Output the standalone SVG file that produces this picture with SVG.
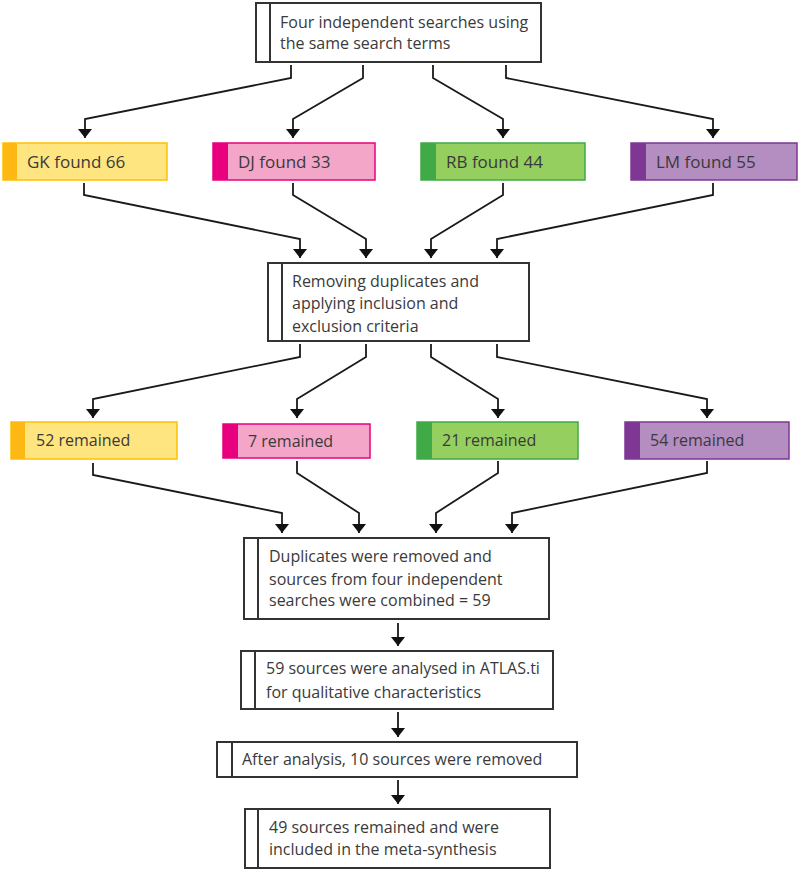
<svg xmlns="http://www.w3.org/2000/svg" width="800" height="871" viewBox="0 0 800 871">
<defs>
<marker id="ah" markerUnits="userSpaceOnUse" markerWidth="10" markerHeight="14" refX="9" refY="7" orient="auto" viewBox="0 0 10 14">
<path d="M0,0 L9,7 L0,14 z" fill="#111"/>
</marker>
<style>
.box{fill:#fff;stroke:#333;stroke-width:2}
.bar{fill:none;stroke:#333;stroke-width:2}
.t{font-family:"Open Sans","Noto Sans","DejaVu Sans",sans-serif;font-size:16px;font-weight:500;fill:#3a3a3a}
.l{font-size:17px}
.c{fill:none;stroke:#1a1a1a;stroke-width:1.8;marker-end:url(#ah)}
.y{fill:#FFE57F;stroke:#FFC000;stroke-width:1.5}
.yb{fill:#FDB813}
.p{fill:#F4A6C8;stroke:#E9007F;stroke-width:1.5}
.pb{fill:#E9007F}
.g{fill:#95CF5F;stroke:#3FAA46;stroke-width:1.5}
.gb{fill:#3FAA46}
.v{fill:#B48DC1;stroke:#7E3793;stroke-width:1.5}
.vb{fill:#7E3793}
</style>
</defs>
<rect width="800" height="871" fill="#fff"/>

<g id="connectors">
<path class="c" d="M291,65 V78 L85,119 V138"/>
<path class="c" d="M363,65 V78 L293,119 V138"/>
<path class="c" d="M433,65 V78 L503,119 V138"/>
<path class="c" d="M506,65 V78 L713,119 V138"/>
<path class="c" d="M84,183 V195 L300,239 V258"/>
<path class="c" d="M293,183 V195 L366,239 V258"/>
<path class="c" d="M503,183 V195 L431,239 V258"/>
<path class="c" d="M713,183 V195 L497,239 V258"/>
<path class="c" d="M300,344 V357 L93,399 V418"/>
<path class="c" d="M366,344 V357 L297,399 V418"/>
<path class="c" d="M431,344 V357 L498,399 V418"/>
<path class="c" d="M497,344 V357 L707,399 V418"/>
<path class="c" d="M93,463 V475 L282,513 V533"/>
<path class="c" d="M297,461 V473 L359,513 V533"/>
<path class="c" d="M498,461 V473 L436,513 V533"/>
<path class="c" d="M707,461 V473 L512,513 V533"/>
<path class="c" d="M398,623 V646"/>
<path class="c" d="M398,712 V737"/>
<path class="c" d="M398,780 V804"/>
</g>

<g id="n-top">
<rect class="box" x="256" y="3" width="285" height="59"/>
<line class="bar" x1="270" y1="3" x2="270" y2="62"/>
<text class="t" x="280" y="28">Four independent searches using</text>
<text class="t" x="280" y="49">the same search terms</text>
</g>

<g id="n-gk">
<rect class="y" x="3" y="143" width="164" height="37"/>
<rect class="yb" x="3" y="143" width="14" height="37"/>
<text class="t l" x="27" y="168">GK found 66</text>
</g>
<g id="n-dj">
<rect class="p" x="213" y="143" width="162" height="37"/>
<rect class="pb" x="213" y="143" width="15" height="37"/>
<text class="t l" x="238" y="168">DJ found 33</text>
</g>
<g id="n-rb">
<rect class="g" x="421" y="143" width="164" height="37"/>
<rect class="gb" x="421" y="143" width="15" height="37"/>
<text class="t l" x="446" y="168">RB found 44</text>
</g>
<g id="n-lm">
<rect class="v" x="631" y="143" width="166" height="37"/>
<rect class="vb" x="631" y="143" width="15" height="37"/>
<text class="t l" x="656" y="168">LM found 55</text>
</g>

<g id="n-remove">
<rect class="box" x="268" y="263" width="261" height="78"/>
<line class="bar" x1="282" y1="263" x2="282" y2="341"/>
<text class="t" x="292" y="287">Removing duplicates and</text>
<text class="t" x="292" y="309">applying inclusion and</text>
<text class="t" x="292" y="332">exclusion criteria</text>
</g>

<g id="n-52">
<rect class="y" x="11" y="422" width="166" height="37"/>
<rect class="yb" x="11" y="422" width="14" height="37"/>
<text class="t" x="36" y="446">52 remained</text>
</g>
<g id="n-7">
<rect class="p" x="223" y="424" width="147" height="34"/>
<rect class="pb" x="223" y="424" width="15" height="34"/>
<text class="t" x="248" y="447">7 remained</text>
</g>
<g id="n-21">
<rect class="g" x="417" y="422" width="161" height="37"/>
<rect class="gb" x="417" y="422" width="15" height="37"/>
<text class="t" x="442" y="446">21 remained</text>
</g>
<g id="n-54">
<rect class="v" x="625" y="422" width="164" height="37"/>
<rect class="vb" x="625" y="422" width="15" height="37"/>
<text class="t" x="650" y="446">54 remained</text>
</g>

<g id="n-combined">
<rect class="box" x="244" y="538" width="305" height="81"/>
<line class="bar" x1="258" y1="538" x2="258" y2="619"/>
<text class="t" x="269" y="562">Duplicates were removed and</text>
<text class="t" x="269" y="585">sources from four independent</text>
<text class="t" x="269" y="606">searches were combined = 59</text>
</g>

<g id="n-atlas">
<rect class="box" x="241" y="651" width="312" height="58"/>
<line class="bar" x1="255" y1="651" x2="255" y2="709"/>
<text class="t" x="266" y="674">59 sources were analysed in ATLAS.ti</text>
<text class="t" x="266" y="698">for qualitative characteristics</text>
</g>

<g id="n-after">
<rect class="box" x="217" y="742" width="360" height="35"/>
<line class="bar" x1="232" y1="742" x2="232" y2="777"/>
<text class="t" x="242" y="765">After analysis, 10 sources were removed</text>
</g>

<g id="n-final">
<rect class="box" x="245" y="809" width="305" height="59"/>
<line class="bar" x1="258" y1="809" x2="258" y2="868"/>
<text class="t" x="269" y="833">49 sources remained and were</text>
<text class="t" x="269" y="855">included in the meta-synthesis</text>
</g>
</svg>
